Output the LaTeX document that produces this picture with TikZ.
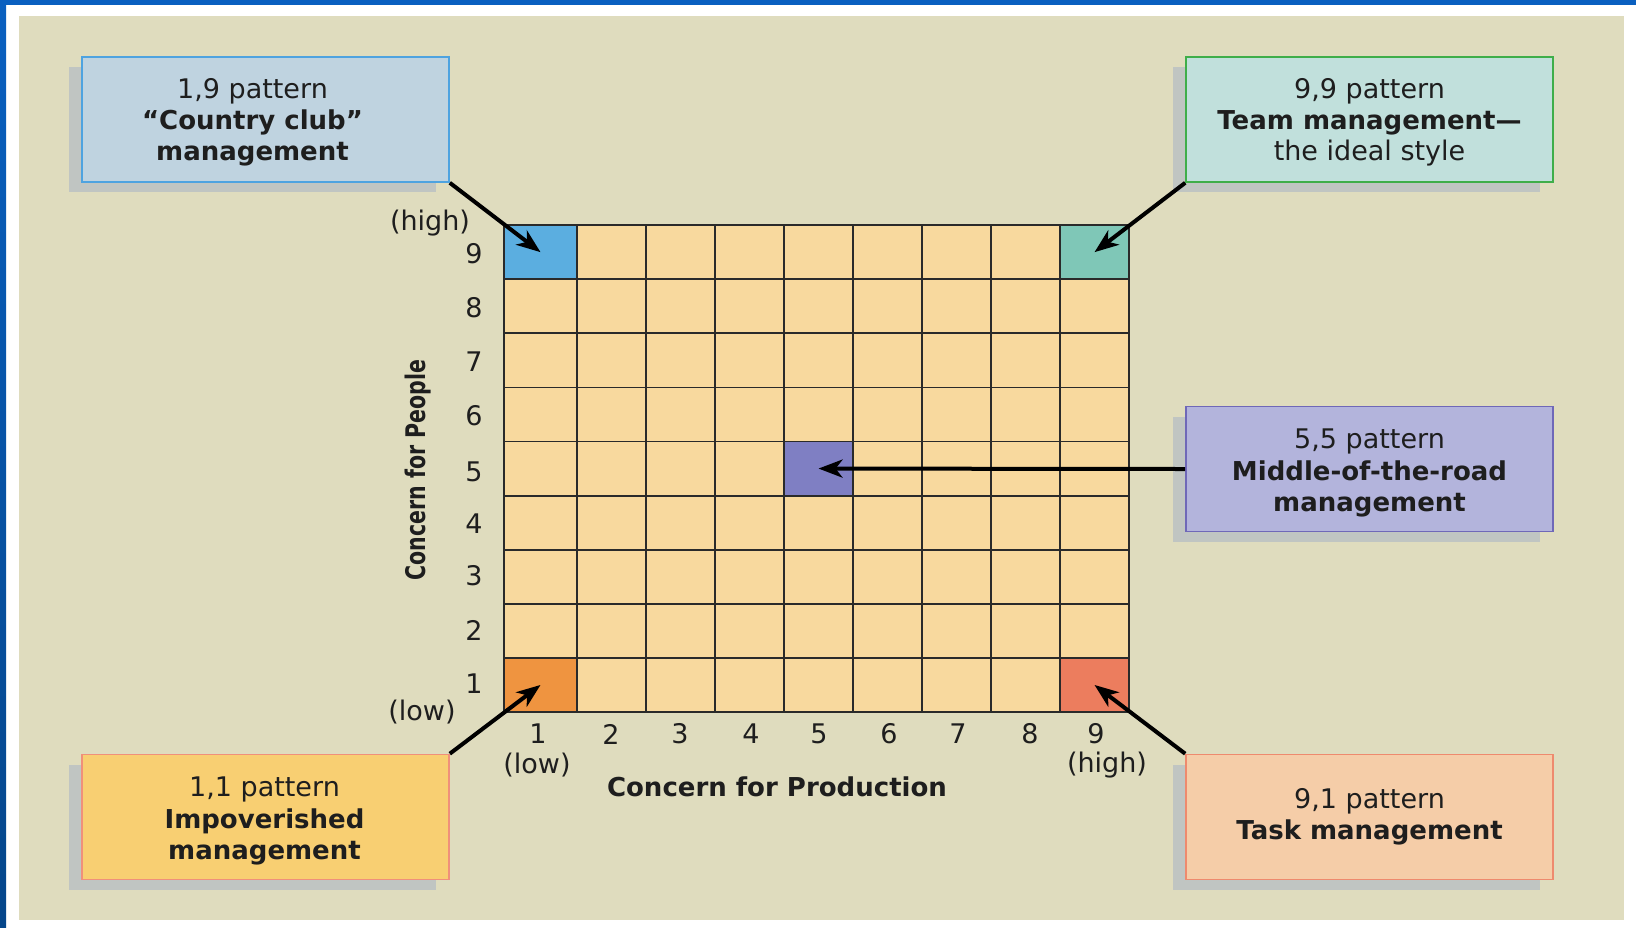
\documentclass[tikz,border=0pt]{standalone}
\usepackage{fontspec}
\setmainfont{DejaVu Sans}
\usepackage{graphicx}
\usetikzlibrary{arrows.meta,shadows}

% palette
\definecolor{frameblue}{HTML}{0A60C0}
\definecolor{frameblueb}{HTML}{05468A}
\definecolor{paper}{HTML}{DFDCBE}
\definecolor{shade}{HTML}{C0C5C2}
\definecolor{ink}{HTML}{1E1E1E}
\definecolor{gridline}{HTML}{2A2A2A}
\definecolor{cellbg}{HTML}{F8D99E}
\definecolor{cellA}{HTML}{5BAEE0}
\definecolor{cellB}{HTML}{7FC7B7}
\definecolor{cellC}{HTML}{7F7FC3}
\definecolor{cellD}{HTML}{EF9440}
\definecolor{cellE}{HTML}{EC7D5E}
\definecolor{tlfill}{HTML}{BFD3E0}
\definecolor{tldraw}{HTML}{4EA3E0}
\definecolor{trfill}{HTML}{C1E0DC}
\definecolor{trdraw}{HTML}{3FAE4A}
\definecolor{mrfill}{HTML}{B3B4DC}
\definecolor{mrdraw}{HTML}{6F68B8}
\definecolor{blfill}{HTML}{F8CF72}
\definecolor{bldraw}{HTML}{F0907A}
\definecolor{brfill}{HTML}{F5CDA8}
\definecolor{brdraw}{HTML}{EE8A6E}

\newcommand\boxfont{\fontsize{13}{15.6}\selectfont}
\newcommand\regfont{\fontsize{13.5}{15.6}\selectfont}

\begin{document}
\begin{tikzpicture}[x=0.5pt,y=-0.5pt,
  stylebox/.style={draw, line width=0.8pt, minimum width=183.5pt, minimum height=62.5pt,
    inner sep=0pt,
    drop shadow={shadow xshift=-6.5pt, shadow yshift=-5pt, fill=shade, opacity=1}},
  boxtext/.style={align=center, text=ink, font=\boxfont, inner sep=0pt},
  pointer/.style={line width=2pt, draw=black, -{Stealth[length=12pt,width=9pt,inset=3.5pt]}},
  cellwide/.style={inner sep=0pt, minimum width=36.5pt, minimum height=27.05pt},
  cellnarrow/.style={inner sep=0pt, minimum width=34.5pt, minimum height=27.05pt},
  numlabel/.style={text=ink, font=\regfont, inner sep=0pt},
  axistitle/.style={text=ink, font=\boxfont\bfseries, inner sep=0pt}]

\useasboundingbox (0,0) rectangle (1636,927);

% page frame
\fill[white] (0,0) rectangle (1636,927);
\fill[frameblue] (0,0) rectangle (1636,5);
\shade[top color=frameblue, bottom color=frameblueb] (0,0) rectangle (6,927);
\fill[paper] (19,16) rectangle (1624,920);

% grid background
\fill[cellbg] (504,225.1) rectangle (1129,712);

% highlighted cells
\node[cellwide,   fill=cellA] (c19) at (540.5,252.15) {};
\node[cellnarrow, fill=cellB] (c99) at (1094.5,252.15) {};
\node[cellnarrow, fill=cellC] (c55) at (818.5,468.55) {};
\node[cellwide,   fill=cellD] (c11) at (540.5,684.95) {};
\node[cellnarrow, fill=cellE] (c91) at (1094.5,684.95) {};

% grid lines
\foreach \gx in {504,577,646,715,784,853,922,991,1060,1129}
  \draw[gridline, line width=0.9pt] (\gx,225.1) -- (\gx,712);
\foreach \gy in {225.1,279.2,333.3,387.4,441.5,495.6,549.7,603.8,657.9,712}
  \draw[gridline, line width=0.9pt] (504,\gy) -- (1129,\gy);

% vertical scale
\foreach \n/\yy in {9/254,8/308,7/362,6/416,5/472,4/524,3/576,2/630,1/684}
  \node[numlabel] (py\n) at (474,\yy) {\n};
\node[numlabel] (phigh) at (430,223) {(high)};
\node[numlabel] (plow) at (422,712) {(low)};

% horizontal scale
\foreach \n/\xx in {1/538,2/611,3/680,4/751,5/819,6/889,7/958,8/1030,9/1096}
  \node[numlabel] (px\n) at (\xx,734) {\n};
\node[numlabel] (xlow) at (537,765) {(low)};
\node[numlabel] (xhigh) at (1107,765) {(high)};

% axis titles
\node[axistitle] (xtitle) at (777,787) {Concern for Production};
\node[axistitle, rotate=90] (ytitle) at (418,470)
  {\scalebox{0.76}[1]{\fontsize{13.5}{16}\selectfont\bfseries Concern for People}};

% style boxes
\node[stylebox, fill=tlfill, draw=tldraw] (tl) at (265.5,119.5) {};
\node[stylebox, fill=trfill, draw=trdraw] (tr) at (1369.5,119.5) {};
\node[stylebox, fill=mrfill, draw=mrdraw] (mr) at (1369.5,469) {};
\node[stylebox, fill=blfill, draw=bldraw] (bl) at (265.5,817) {};
\node[stylebox, fill=brfill, draw=brdraw] (br) at (1369.5,817) {};

% box captions
\node[boxtext] (tlt) at ([shift={(-13,3)}]tl.center)
  {{\regfont 1,9 pattern}\\\textbf{“Country club”}\\\textbf{management}};
\node[boxtext] (trt) at ([shift={(0,3)}]tr.center)
  {{\regfont 9,9 pattern}\\\textbf{Team management—}\\{\regfont the ideal style}};
\node[boxtext] (mrt) at ([shift={(0,4)}]mr.center)
  {{\regfont 5,5 pattern}\\\textbf{Middle-of-the-road}\\\textbf{management}};
\node[boxtext] (blt) at ([shift={(-1,4)}]bl.center)
  {{\regfont 1,1 pattern}\\\textbf{Impoverished}\\\textbf{management}};
\node[boxtext] (brt) at ([shift={(0,0)}]br.center)
  {{\regfont 9,1 pattern}\\\textbf{Task management}};

% pointers from boxes to cells
\draw[pointer] (tl.south east) -- (c19.center);
\draw[pointer] (tr.south west) -- (c99.center);
\draw[pointer] (mr.west) -- (c55.center);
\draw[pointer] (bl.north east) -- (c11.center);
\draw[pointer] (br.north west) -- (c91.center);

\end{tikzpicture}
\end{document}
